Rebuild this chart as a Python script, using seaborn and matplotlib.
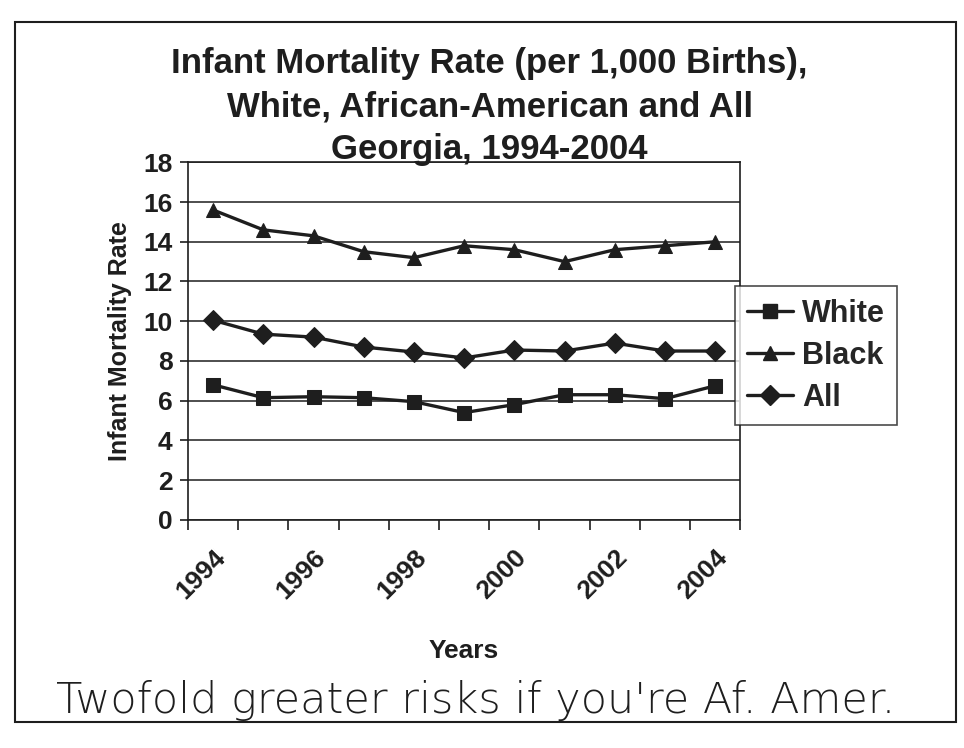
import pandas as pd
import numpy as np
import matplotlib.pyplot as plt
import seaborn as sns
from matplotlib.patches import Rectangle

years = [1994, 1995, 1996, 1997, 1998, 1999, 2000, 2001, 2002, 2003, 2004]
white = [6.8, 6.15, 6.2, 6.15, 5.95, 5.4, 5.8, 6.3, 6.3, 6.1, 6.75]
black = [15.6, 14.6, 14.3, 13.5, 13.2, 13.8, 13.6, 13.0, 13.6, 13.8, 14.0]
all_races = [10.05, 9.35, 9.2, 8.7, 8.45, 8.15, 8.55, 8.5, 8.9, 8.5, 8.5]
groups = ["White", "Black", "All"]
year_labels = ["1994", "1996", "1998", "2000", "2002", "2004"]

sns.set_style("white")
plt.rcParams['font.family'] = ['Liberation Sans', 'DejaVu Sans']

# long format for seaborn, years as category positions
df = pd.DataFrame({
    "pos": list(range(len(years))) * 3,
    "rate": white + black + all_races,
    "group": ["White"] * len(years) + ["Black"] * len(years) + ["All"] * len(years),
})

ink = "#1e1e1e"
fig = plt.figure(figsize=(9.64, 7.48), dpi=100)
ax = fig.add_axes([0.195, 0.305, 0.573, 0.478])

sns.lineplot(data=df, x="pos", y="rate", style="group", style_order=groups,
             markers={"White": "s", "Black": "^", "All": "D"}, dashes=False,
             color=ink, linewidth=2.4, markersize=10, markeredgecolor=ink,
             legend=False, ax=ax)

ax.set_xlim(-0.5, len(years) - 0.5)
ax.set_ylim(0, 18)
ax.set_yticks(range(0, 19, 2))
ax.yaxis.grid(True, color=ink, linewidth=1.1)
ax.set_axisbelow(True)
for s in ax.spines.values():
    s.set_color(ink)
    s.set_linewidth(1.2)

# category boundaries get the tick marks, labels sit under every other category
ax.set_xticks(np.arange(-0.5, len(years), 1), minor=True)
ax.set_xticks(range(0, len(years), 2))
ax.set_xticklabels(year_labels, rotation=45, ha="right", rotation_mode="anchor",
                   fontsize=19, fontweight="bold", color=ink)
ax.tick_params(axis="x", which="major", length=0, pad=18)
ax.tick_params(axis="x", which="minor", length=7, width=1.2, color=ink, bottom=True)
ax.tick_params(axis="y", length=6, width=1.2, color=ink, left=True,
               labelsize=19, labelcolor=ink, pad=5)
for t in ax.get_yticklabels():
    t.set_fontweight("bold")

ax.set_xlabel("Years", fontsize=19, fontweight="bold", color=ink, labelpad=26)
ax.set_ylabel("Infant Mortality Rate", fontsize=18, fontweight="bold", color=ink, labelpad=8)

fig.text(0.508, 0.937, "Infant Mortality Rate (per 1,000 Births),\nWhite, African-American and All\nGeorgia, 1994-2004",
         ha="center", va="top", fontsize=25, fontweight="bold", color=ink, linespacing=1.38)

handles = [plt.Line2D([], [], color=ink, lw=2.4, marker=m, markersize=10)
           for m in ["s", "^", "D"]]
leg = fig.legend(handles, groups, loc="upper left", bbox_to_anchor=(0.762, 0.617),
                 frameon=True, fancybox=False, edgecolor=ink, handlelength=1.5,
                 prop={"size": 22, "weight": "bold"}, labelspacing=0.4,
                 borderpad=0.4, handletextpad=0.3, borderaxespad=0)
leg.get_frame().set_linewidth(1.2)

fig.text(0.058, 0.063, "Twofold greater risks if you're Af. Amer.", fontsize=31,
         color=ink, ha="left", va="center", fontweight="light", family="DejaVu Sans")

fig.patches.append(Rectangle((0.016, 0.035), 0.976, 0.935, transform=fig.transFigure,
                             fill=False, edgecolor=ink, linewidth=1.5))

fig.savefig("out.png", dpi=100)
